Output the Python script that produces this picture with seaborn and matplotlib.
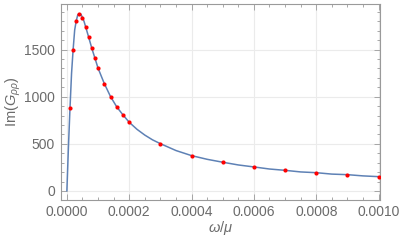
import numpy as np
import pandas as pd
from matplotlib import pyplot as plt
from matplotlib.ticker import MultipleLocator, FormatStrFormatter
import seaborn as sb

# sampled points (red dots)
omega_pts = [0.00001, 0.00002, 0.00003, 0.00004, 0.00005, 0.00006, 0.00007, 0.00008,
             0.00009, 0.0001, 0.00012, 0.00014, 0.00016, 0.00018, 0.0002,
             0.0003, 0.0004, 0.0005, 0.0006, 0.0007, 0.0008, 0.0009, 0.001]
im_pts = [881, 1500, 1805, 1882, 1840, 1744, 1631, 1514,
          1409, 1303, 1140, 1002, 892, 807, 729,
          502, 375, 305, 255, 219, 194, 173, 152]

# curve (blue line)
omega_curve = [0.0, 0.0000025, 0.000005, 0.00001, 0.000015, 0.00002, 0.000025, 0.00003,
               0.000035, 0.00004, 0.000045, 0.00005, 0.000055, 0.00006, 0.00007, 0.00008,
               0.00009, 0.0001, 0.00012, 0.00014, 0.00016, 0.00018, 0.0002, 0.000225, 0.00025,
               0.000275, 0.0003, 0.00035, 0.0004, 0.00045, 0.0005, 0.00055, 0.0006, 0.00065,
               0.0007, 0.00075, 0.0008, 0.00085, 0.0009, 0.00095, 0.001]
im_curve = [0, 236, 468, 881, 1249, 1500, 1708, 1805,
            1870, 1882, 1875, 1840, 1800, 1744, 1631, 1514,
            1409, 1303, 1140, 1002, 892, 807, 729, 654, 593,
            542, 502, 429, 375, 336, 305, 276, 255, 233,
            219, 202, 194, 179, 173, 160, 152]

sb.set_style('ticks')
plt.rcParams['font.family'] = ['Liberation Sans', 'DejaVu Sans']
plt.rcParams['mathtext.fontset'] = 'custom'
plt.rcParams['mathtext.rm'] = 'Liberation Sans'
plt.rcParams['mathtext.it'] = 'Liberation Sans:italic'

grey = '#6b6b6b'
frame = '#9a9a9a'

curve_df = pd.DataFrame({'omega': omega_curve, 'im': im_curve})
pts_df = pd.DataFrame({'omega': omega_pts, 'im': im_pts})

fig = plt.figure(figsize=(3.99, 2.45), dpi=100)
ax = fig.add_axes([0.152, 0.184, 0.800, 0.800])

sb.lineplot(data=curve_df, x='omega', y='im', ax=ax, color='#5e81b5', linewidth=1.1, sort=False)
sb.scatterplot(data=pts_df, x='omega', y='im', ax=ax, color='red', s=9, linewidth=0, zorder=3)

ax.set_xlim(-0.00002, 0.001004)
ax.set_ylim(-95, 1985)
ax.xaxis.set_major_locator(MultipleLocator(0.0002))
ax.xaxis.set_minor_locator(MultipleLocator(0.00005))
ax.yaxis.set_major_locator(MultipleLocator(500))
ax.yaxis.set_minor_locator(MultipleLocator(100))
ax.xaxis.set_major_formatter(FormatStrFormatter('%.4f'))
ax.set_yticks([0, 500, 1000, 1500])

ax.grid(True, which='major', color='#ebebeb', linewidth=0.8)
ax.set_axisbelow(True)
for s in ax.spines.values():
    s.set_color(frame)
    s.set_linewidth(0.8)
ax.tick_params(which='both', direction='in', top=True, right=True, color=frame,
               labelcolor=grey, labelsize=10, width=0.6)
ax.tick_params(which='major', length=4, pad=4)
ax.tick_params(which='minor', length=2)

ax.set_xlabel(r'$\omega/\mu$', color=grey, fontsize=10.5, labelpad=0)
ax.set_ylabel(r'Im($G_{\rho\rho}$)', color=grey, fontsize=10.5, labelpad=1)

plt.savefig('out.png', dpi=100)
